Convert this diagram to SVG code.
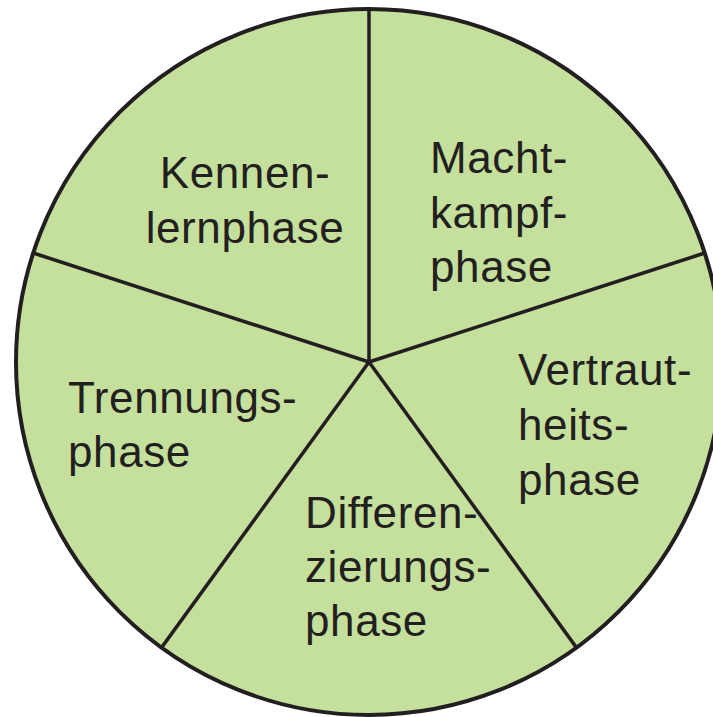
<svg xmlns="http://www.w3.org/2000/svg" width="713" height="717" viewBox="0 0 713 717">
<style>
.ring{fill:#c5df9d;stroke:#231f20;stroke-width:4}
.spoke{stroke:#231f20;stroke-width:3.5;fill:none;stroke-linecap:round}
text{font-family:"Liberation Sans",Arial,sans-serif;font-size:44px;letter-spacing:0.6px;fill:#231f20}
</style>
<rect width="713" height="717" fill="#ffffff"/>
<circle class="ring" cx="369" cy="362" r="353"/>
<g id="connectors">
<line class="spoke" x1="369" y1="362" x2="369" y2="9"/>
<line class="spoke" x1="369" y1="362" x2="704.7" y2="253"/>
<line class="spoke" x1="369" y1="362" x2="576.5" y2="647.6"/>
<line class="spoke" x1="369" y1="362" x2="161.5" y2="647.6"/>
<line class="spoke" x1="369" y1="362" x2="33.3" y2="253"/>
</g>
<g id="kennenlernphase">
<text x="245" y="188" text-anchor="middle">Kennen-</text>
<text x="245" y="243" text-anchor="middle">lernphase</text>
</g>
<g id="machtkampfphase">
<text x="430" y="173">Macht-</text>
<text x="430" y="228">kampf-</text>
<text x="430" y="282">phase</text>
</g>
<g id="vertrautheitsphase">
<text x="518" y="385">Vertraut-</text>
<text x="518" y="440">heits-</text>
<text x="518" y="495">phase</text>
</g>
<g id="differenzierungsphase">
<text x="305" y="528">Differen-</text>
<text x="305" y="582">zierungs-</text>
<text x="305" y="636">phase</text>
</g>
<g id="trennungsphase">
<text x="68" y="413">Trennungs-</text>
<text x="68" y="467">phase</text>
</g>
</svg>
